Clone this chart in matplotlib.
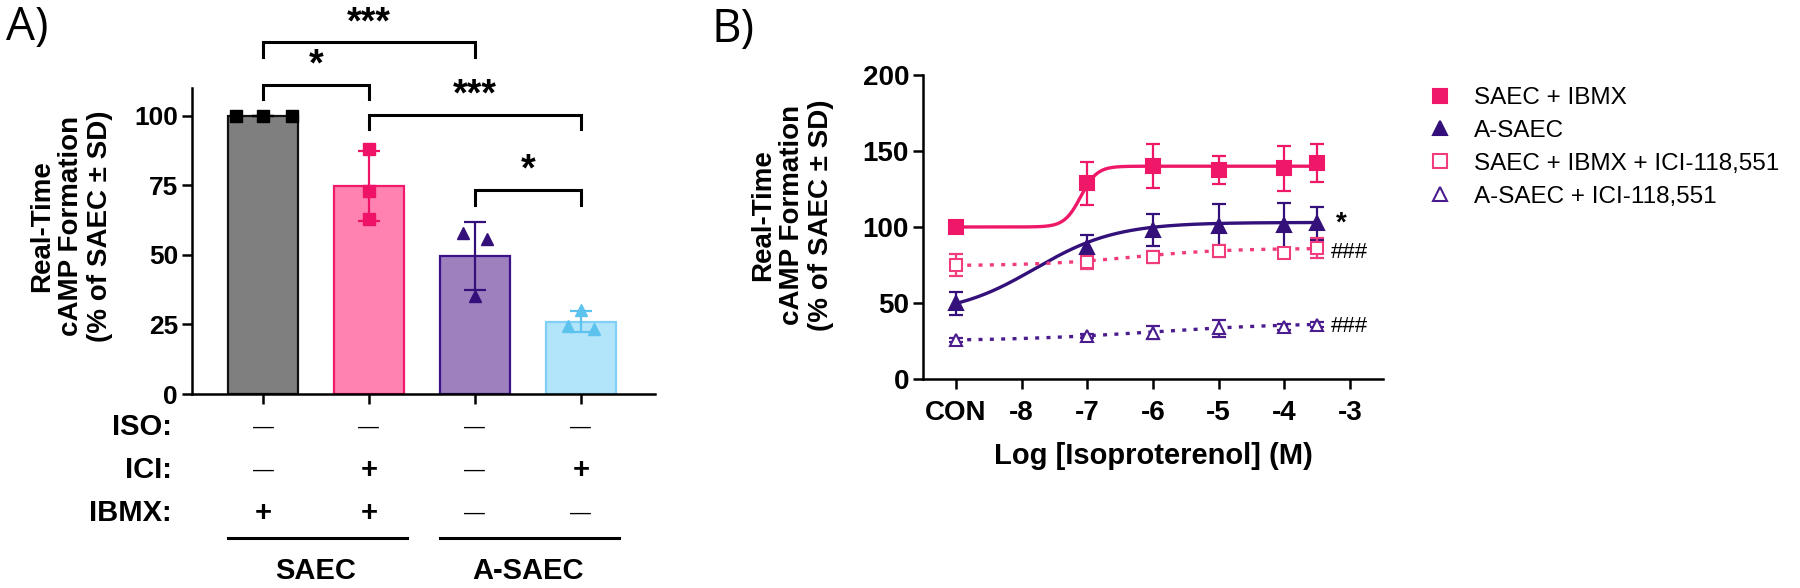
import numpy as np
import matplotlib.pyplot as plt
import matplotlib.transforms as mtransforms
from matplotlib.lines import Line2D

plt.rcParams['font.family'] = ['Liberation Sans', 'DejaVu Sans']
plt.rcParams['axes.linewidth'] = 1.8

# ---- panel A data ----
bar_labels = ['SAEC', 'SAEC + ICI', 'A-SAEC', 'A-SAEC + ICI']
bar_reps = [[100, 100, 100],
            [88, 73, 63],
            [57.8, 55.6, 35.4],
            [30.2, 24.3, 23.4]]
iso_row = ['—', '—', '—', '—']
ici_row = ['—', '+', '—', '+']
ibmx_row = ['+', '+', '—', '—']
group_names = ['SAEC', 'A-SAEC']
group_members = [(0, 1), (2, 3)]
sig_pairs = [(0, 2, '***'), (0, 1, '*'), (1, 3, '***'), (2, 3, '*')]
sig_heights = [126.4, 111.2, 100.4, 73.4]

# ---- panel B data ----
log_iso = [-9, -7, -6, -5, -4, -3.5]
xtick_vals = [-9, -8, -7, -6, -5, -4, -3]
xtick_labels = ['CON', '-8', '-7', '-6', '-5', '-4', '-3']
saec_mean = [100, 128.7, 140.4, 137.5, 138.6, 141.9]
saec_sd = [0, 14, 14.5, 9.5, 15, 12.5]
asaec_mean = [49.8, 87, 98, 100.4, 101, 102.4]
asaec_sd = [7.5, 8, 10.5, 15, 15, 11]
saec_ici_mean = [75, 77.2, 80.4, 84.2, 82.8, 86]
saec_ici_sd = [7.5, 5, 4, 4, 3.5, 6.5]
asaec_ici_mean = [25.7, 28.3, 30.4, 33.4, 34, 35.8]
asaec_ici_sd = [1.5, 1.5, 4.4, 5.5, 2, 1.5]
# fitted 4PL parameters (bottom, top, logEC50, hill)
saec_fit = (100, 140, -7.1, 3.5)
asaec_fit = (42, 103, -7.8, 0.7)
saec_ici_fit = (74.5, 86, -6.3, 0.6)
asaec_ici_fit = (25, 37, -6.0, 0.4)

legend_labels = ['SAEC + IBMX', 'A-SAEC', 'SAEC + IBMX + ICI-118,551', 'A-SAEC + ICI-118,551']

PINK = '#EF1768'
PURPLE = '#33107A'

W, H = 1800, 588
fig = plt.figure(figsize=(W / 100, H / 100), dpi=100)


def fx(px):
    return px / W


def fy(py):
    return 1 - py / H


def logistic(x, p):
    bottom, top, ec50, hill = p
    return bottom + (top - bottom) / (1 + 10 ** ((ec50 - x) * hill))


# ================= panel A =================
ax1 = fig.add_axes([fx(192), fy(394), fx(655) - fx(192), fy(88) - fy(394)])
xs = np.arange(len(bar_labels))
means = [np.mean(r) for r in bar_reps]
sds = [np.std(r, ddof=1) for r in bar_reps]
fills = ['#7F7F7F', '#FF82B1', '#9E80BF', '#B2E4FA']
edges = ['#111111', '#F0196A', '#3D1289', '#7FD0F4']
mcols = ['#000000', '#EE1366', '#33107A', '#5CC3EE']
mshape = ['s', 's', '^', '^']
jitter = [[-0.25, 0, 0.27], [0, 0, 0], [-0.11, 0.11, 0], [0, -0.12, 0.12]]

ax1.bar(xs, means, width=0.66, color=fills, edgecolor=edges, linewidth=1.6, zorder=1)
for i in range(len(xs)):
    ax1.errorbar(xs[i], means[i], yerr=sds[i], color=mcols[i], capsize=8, capthick=1.6,
                 elinewidth=1.6, fmt='none', zorder=2)
    ax1.plot(xs[i] + np.array(jitter[i]), bar_reps[i], linestyle='none', marker=mshape[i],
             markersize=8.5, color=mcols[i], zorder=3, clip_on=False)

ax1.set_xlim(-0.67, 3.70)
ax1.set_ylim(0, 110)
ax1.set_yticks([0, 25, 50, 75, 100])
ax1.set_xticks(xs)
ax1.set_xticklabels([])
ax1.spines['top'].set_visible(False)
ax1.spines['right'].set_visible(False)
ax1.tick_params(axis='both', length=7, width=1.8, labelsize=19, pad=3)
for t in ax1.get_yticklabels():
    t.set_fontweight('bold')

for (a, b, s), h in zip(sig_pairs, sig_heights):
    ax1.plot([a, a, b, b], [h - 5.3, h, h, h - 5.3], color='black', lw=2.2,
             clip_on=False, solid_joinstyle='miter')
    ax1.text((a + b) / 2, h + 0.3, s, ha='center', va='bottom', fontsize=27,
             fontweight='bold')

trans = mtransforms.blended_transform_factory(ax1.transData, fig.transFigure)
rows = [('ISO:', iso_row, 427), ('ICI:', ici_row, 470), ('IBMX:', ibmx_row, 513)]
for name, vals, py in rows:
    fig.text(fx(172), fy(py), name, ha='right', va='center', fontsize=21, fontweight='bold')
    for i, v in enumerate(vals):
        if v == '+':
            ax1.text(xs[i], fy(py), v, transform=trans, ha='center', va='center',
                     fontsize=21, fontweight='bold')
        else:
            ax1.text(xs[i], fy(py), v, transform=trans, ha='center', va='center',
                     fontsize=15)
for name, (a, b) in zip(group_names, group_members):
    ax1.add_line(Line2D([a - 0.33, b + 0.36], [fy(538), fy(538)], transform=trans,
                        color='black', lw=2.2, clip_on=False))
    ax1.text((a + b) / 2, fy(571), name, transform=trans, ha='center', va='center',
             fontsize=21, fontweight='bold')

fig.text(fx(71), fy(226), 'Real-Time\ncAMP Formation\n(% of SAEC ± SD)', rotation=90,
         ha='center', va='center', fontsize=20, fontweight='bold', linespacing=1.15)
fig.text(fx(6), fy(28), 'A)', ha='left', va='center', fontsize=33,
         family=['Open Sans', 'DejaVu Sans'])

# ================= panel B =================
ax2 = fig.add_axes([fx(923), fy(379), fx(1383) - fx(923), fy(75) - fy(379)])
xf = np.linspace(-9, -3.5, 300)

series = [
    (saec_mean, saec_sd, saec_fit, PINK, 's', True, '-'),
    (asaec_mean, asaec_sd, asaec_fit, PURPLE, '^', True, '-'),
    (saec_ici_mean, saec_ici_sd, saec_ici_fit, '#F03C7C', 's', False, (0, (1.2, 2.2))),
    (asaec_ici_mean, asaec_ici_sd, asaec_ici_fit, '#4A1C8E', '^', False, (0, (1.2, 2.2))),
]
handles = []
for mean, sd, fit, col, mk, filled, ls in series:
    ax2.plot(xf, logistic(xf, fit), color=col, lw=2.4, linestyle=ls, zorder=2)
    ax2.errorbar(log_iso, mean, yerr=sd, fmt='none', ecolor=col, elinewidth=1.6,
                 capsize=5, capthick=1.6, zorder=3)
    ax2.plot(log_iso, mean, linestyle='none', marker=mk, markersize=9.5 if filled else 9,
             color=col, markerfacecolor=col if filled else 'white',
             markeredgewidth=1.5, zorder=4)
    handles.append(Line2D([], [], linestyle='none', marker=mk, markersize=10, color=col,
                          markerfacecolor=col if filled else 'white', markeredgewidth=1.5))

ax2.set_xlim(-9.5, -2.5)
ax2.set_ylim(0, 200)
ax2.set_yticks([0, 50, 100, 150, 200])
ax2.set_xticks(xtick_vals)
ax2.set_xticklabels(xtick_labels)
ax2.spines['top'].set_visible(False)
ax2.spines['right'].set_visible(False)
ax2.tick_params(axis='y', length=7, width=1.8, labelsize=20, pad=3)
ax2.tick_params(axis='x', length=7, width=1.8, labelsize=20, pad=8)
for t in ax2.get_yticklabels() + ax2.get_xticklabels():
    t.set_fontweight('bold')
ax2.set_xlabel('Log [Isoproterenol] (M)', fontsize=21, fontweight='bold', labelpad=12)

ax2.text(-3.22, asaec_mean[-1], '*', ha='left', va='center', fontsize=20, fontweight='bold')
ax2.text(-3.29, saec_ici_mean[-1] - 3, '###', ha='left', va='center', fontsize=16)
ax2.text(-3.29, asaec_ici_mean[-1] - 1, '###', ha='left', va='center', fontsize=16)

fig.text(fx(792), fy(215), 'Real-Time\ncAMP Formation\n(% of SAEC ± SD)', rotation=90,
         ha='center', va='center', fontsize=20, fontweight='bold', linespacing=1.15)
fig.text(fx(711), fy(30), 'B)', ha='left', va='center', fontsize=33,
         family=['Open Sans', 'DejaVu Sans'])

fig.legend(handles, legend_labels, loc='upper left', bbox_to_anchor=(fx(1428), fy(87)),
           frameon=False, fontsize=17.5, handlelength=1.0, handletextpad=0.9,
           labelspacing=0.45, borderpad=0, borderaxespad=0)

fig.savefig('out.png', dpi=100)
